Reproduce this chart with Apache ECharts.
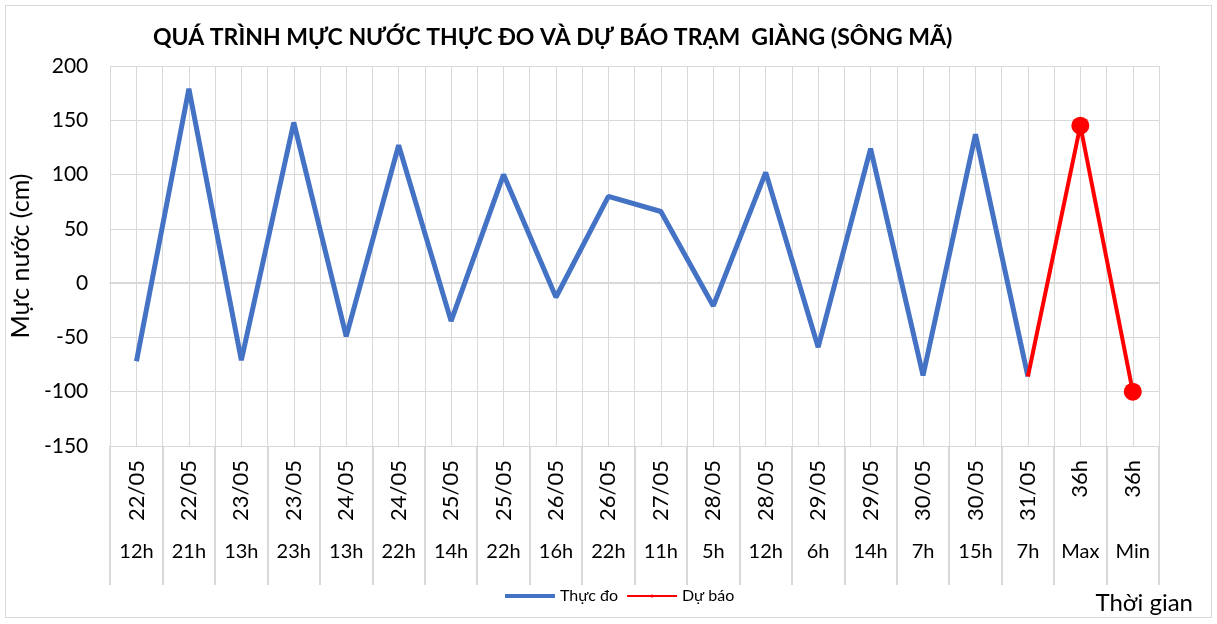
<!DOCTYPE html>
<html>
<head>
<meta charset="utf-8">
<script src="https://cdn.jsdelivr.net/npm/echarts@6/dist/echarts.min.js"></script>
<style>
  html, body { margin: 0; padding: 0; background: #fff; }
  #frame { position: absolute; left: 5px; top: 5px; width: 1205px; height: 611px; border: 1px solid #d9d9d9; }
  #chart { width: 1217px; height: 624px; }
</style>
</head>
<body>
<div id="frame"></div>
<div id="chart"></div>
<script>
var dateLabels = ['22/05', '22/05', '23/05', '23/05', '24/05', '24/05', '25/05', '25/05', '26/05', '26/05',
    '27/05', '28/05', '28/05', '29/05', '29/05', '30/05', '30/05', '31/05', '36h', '36h'];
var hourLabels = ['12h', '21h', '13h', '23h', '13h', '22h', '14h', '22h', '16h', '22h',
    '11h', '5h', '12h', '6h', '14h', '7h', '15h', '7h', 'Max', 'Min'];
var observed = [-72, 179, -71, 148, -49, 127, -35, 100, -13, 80, 66, -21, 102, -59, 124, -85, 137, -86];
var forecast = [-86, 145, -100];
var forecastStart = 17;

var FONT = 'Lato, "Open Sans", sans-serif';
var GRID_COLOR = '#d9d9d9';

var forecastData = [];
for (var i = 0; i < dateLabels.length; i++) {
    var k = i - forecastStart;
    if (k >= 0 && k < forecast.length) {
        forecastData.push(k === 0 ? { value: forecast[k], symbol: 'none' } : forecast[k]);
    } else {
        forecastData.push('-');
    }
}

var chart = echarts.init(document.getElementById('chart'));
chart.setOption({
    animation: false,
    title: {
        text: 'QUÁ TRÌNH MỰC NƯỚC THỰC ĐO VÀ DỰ BÁO TRẠM  GIÀNG (SÔNG MÃ)',
        left: 148,
        top: 21,
        textStyle: { fontFamily: FONT, fontSize: 23, fontWeight: 'bold', color: '#000' }
    },
    legend: {
        bottom: 15,
        left: 500,
        itemWidth: 50,
        itemHeight: 4,
        itemGap: 8,
        textStyle: { fontFamily: FONT, fontSize: 16, color: '#000' },
        data: [
            { name: 'Thực đo', icon: 'rect' },
            { name: 'Dự báo' }
        ]
    },
    graphic: [{
        type: 'text',
        right: 24,
        bottom: 9,
        style: { text: 'Thời gian', font: '24px ' + FONT, fill: '#000' }
    }],
    grid: [
        { left: 110, right: 58, top: 66, bottom: 178 },
        // band under the plot holding the category separators
        { left: 110, right: 58, top: 446, height: 139 }
    ],
    xAxis: [{
        type: 'category',
        gridIndex: 0,
        data: dateLabels,
        position: 'bottom',
        boundaryGap: true,
        axisLine: { lineStyle: { color: GRID_COLOR, width: 2 } },
        axisTick: { show: false },
        axisLabel: { interval: 0, rotate: 90, margin: 14, fontFamily: FONT, fontSize: 22, color: '#000' },
        splitLine: { show: false }
    }, {
        type: 'category',
        gridIndex: 0,
        data: hourLabels,
        position: 'bottom',
        boundaryGap: true,
        axisLine: { show: false },
        axisTick: { show: false },
        axisLabel: { interval: 0, margin: 96, fontFamily: FONT, fontSize: 20, color: '#000' },
        splitLine: { show: false }
    }, {
        type: 'value',
        gridIndex: 0,
        position: 'top',
        min: 0,
        max: dateLabels.length * 2,
        interval: 1,
        axisLine: { show: false },
        axisTick: { show: false },
        axisLabel: { show: false },
        splitLine: { show: true, lineStyle: { color: GRID_COLOR, width: 1 } }
    }, {
        type: 'value',
        gridIndex: 1,
        min: 0,
        max: dateLabels.length,
        interval: 1,
        axisLine: { show: false },
        axisTick: { show: false },
        axisLabel: { show: false },
        splitLine: { show: true, lineStyle: { color: GRID_COLOR, width: 2 } }
    }],
    yAxis: [{
        type: 'value',
        gridIndex: 0,
        min: -150,
        max: 200,
        interval: 50,
        name: 'Mực nước (cm)',
        nameLocation: 'middle',
        nameGap: 64,
        nameTextStyle: { fontFamily: FONT, fontSize: 25, color: '#000' },
        axisLine: { show: false },
        axisTick: { show: false },
        axisLabel: { margin: 22, fontFamily: FONT, fontSize: 21, color: '#000' },
        splitLine: { lineStyle: { color: GRID_COLOR, width: 1 } }
    }, {
        type: 'value',
        gridIndex: 1,
        min: 0,
        max: 1,
        show: false
    }],
    series: [{
        name: 'Thực đo',
        type: 'line',
        xAxisIndex: 0,
        yAxisIndex: 0,
        data: observed,
        symbol: 'none',
        lineStyle: { color: '#4472C4', width: 5 },
        itemStyle: { color: '#4472C4' }
    }, {
        name: 'Dự báo',
        type: 'line',
        xAxisIndex: 0,
        yAxisIndex: 0,
        data: forecastData,
        symbol: 'circle',
        symbolSize: 18,
        lineStyle: { color: '#FF0000', width: 4 },
        itemStyle: { color: '#FF0000' }
    }]
});
</script>
</body>
</html>
